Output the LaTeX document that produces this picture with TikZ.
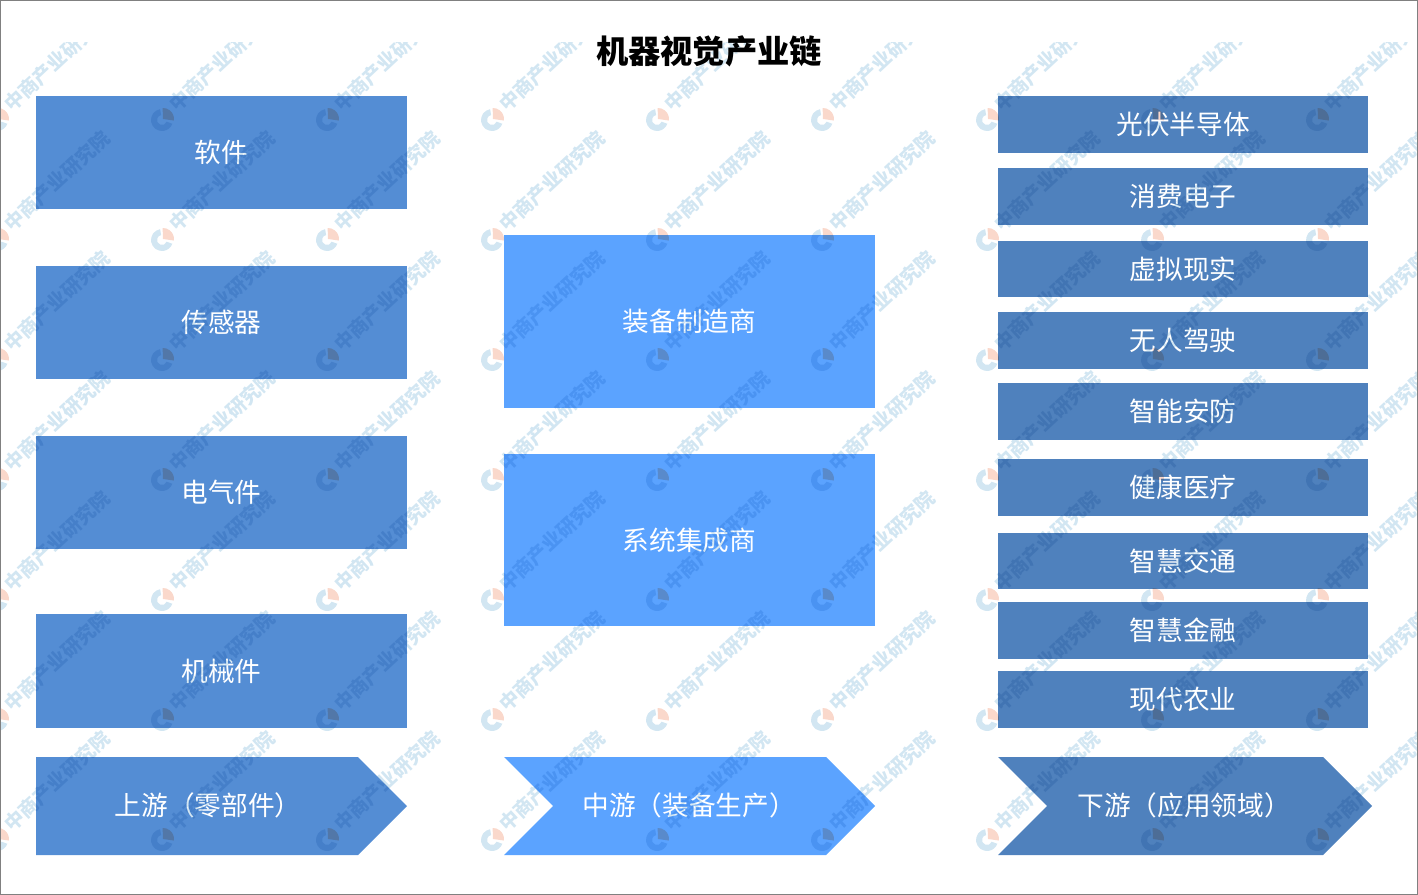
\documentclass[tikz,border=0pt]{standalone}
\usepackage{fontspec}
\setmainfont{Noto Sans CJK SC}
\usetikzlibrary{calc}
\definecolor{upblue}{HTML}{548DD4}
\definecolor{midblue}{HTML}{5BA3FF}
\definecolor{downblue}{HTML}{4F81BD}
\definecolor{markblue}{HTML}{D2E6F2}
\definecolor{markred}{HTML}{FAD8CB}
\tikzset{
    upbox/.style={fill=upblue,text=white,inner sep=0pt,font=\fontsize{20}{22}\selectfont},
    midbox/.style={upbox,fill=midblue},
    downbox/.style={upbox,fill=downblue},
    marktext/.style={text=markblue,rotate=43,inner sep=0pt,font=\fontsize{14.5}{16}\selectfont\bfseries},
}
\begin{document}
\begin{tikzpicture}[x=0.75pt,y=-0.75pt]
    \useasboundingbox (0,0) rectangle (1418,895);
    % left column
    \node[upbox,minimum width=278.25pt,minimum height=84.75pt] (soft) at (221.5,152.5) {软件};
    \node[upbox,minimum width=278.25pt,minimum height=84.75pt] (sensor) at (221.5,322.5) {\raisebox{0.75pt}{传感器}};
    \node[upbox,minimum width=278.25pt,minimum height=84.75pt] (elec) at (221.5,492.5) {电气件};
    \node[upbox,minimum width=278.25pt,minimum height=85.5pt] (mech) at (221.5,671) {机械件};
    % middle column
    \node[midbox,minimum width=278.25pt,minimum height=129.75pt] (equip) at (689.5,321.5) {\raisebox{0.75pt}{装备制造商}};
    \node[midbox,minimum width=278.25pt,minimum height=129pt] (integ) at (689.5,540) {\raisebox{0.75pt}{系统集成商}};
    % right column
    \foreach \name/\ypos/\txt in {pv/124.5/光伏半导体, cons/196.5/消费电子, vr/269/虚拟现实,
        auto/340.5/无人驾驶, secu/411.5/智能安防, health/487.5/健康医疗,
        traffic/561/智慧交通, fin/630.5/智慧金融, agri/699.5/现代农业}
        \node[downbox,minimum width=277.5pt,minimum height=42.4pt] (\name) at (1183,\ypos) {\txt};
    % bottom arrows
    \fill[upblue] (36,757) -- (358,757) -- (407,806) -- (358,855) -- (36,855) -- cycle;
    \fill[midblue] (504,757) -- (826,757) -- (875,806) -- (826,855) -- (504,855) -- (553,806) -- cycle;
    \fill[downblue] (998,757) -- (1323,757) -- (1372,806) -- (1323,855) -- (998,855) -- (1047,806) -- cycle;
    \node[upbox,fill=none] (uplabel) at (208,805) {上游（零部件）};
    \node[upbox,fill=none] (midlabel) at (689,805) {中游（装备生产）};
    \node[upbox,fill=none] (downlabel) at (1184,805) {下游（应用领域）};
    % watermark
    \begin{scope}[blend mode=multiply]
        \clip (0,43) rectangle (1418,895);
        \foreach \col in {-3,162,327,492,657,822,987,1152,1317}
            \foreach \row in {120,240,360,480,600,720,840} {
                \node[marktext] (mark-\col-\row) at (\col+60,\row-59) {中商产业研究院};
                \fill[markblue] (\col,\row) ++(-100:11) arc (-100:-340:11) -- ++(-340:-6) arc (-340:-100:5) -- cycle;
                \fill[markred] (\col+1,\row-1) -- ++(8:11) arc (8:-92:11) -- cycle;
            }
    \end{scope}
    \draw[gray] (0.5,0.5) rectangle (1417.5,894.5);
    \node[font=\fontsize{24.2}{26}\selectfont\bfseries] (title) at (709,51) {机器视觉产业链};
\end{tikzpicture}
\end{document}
